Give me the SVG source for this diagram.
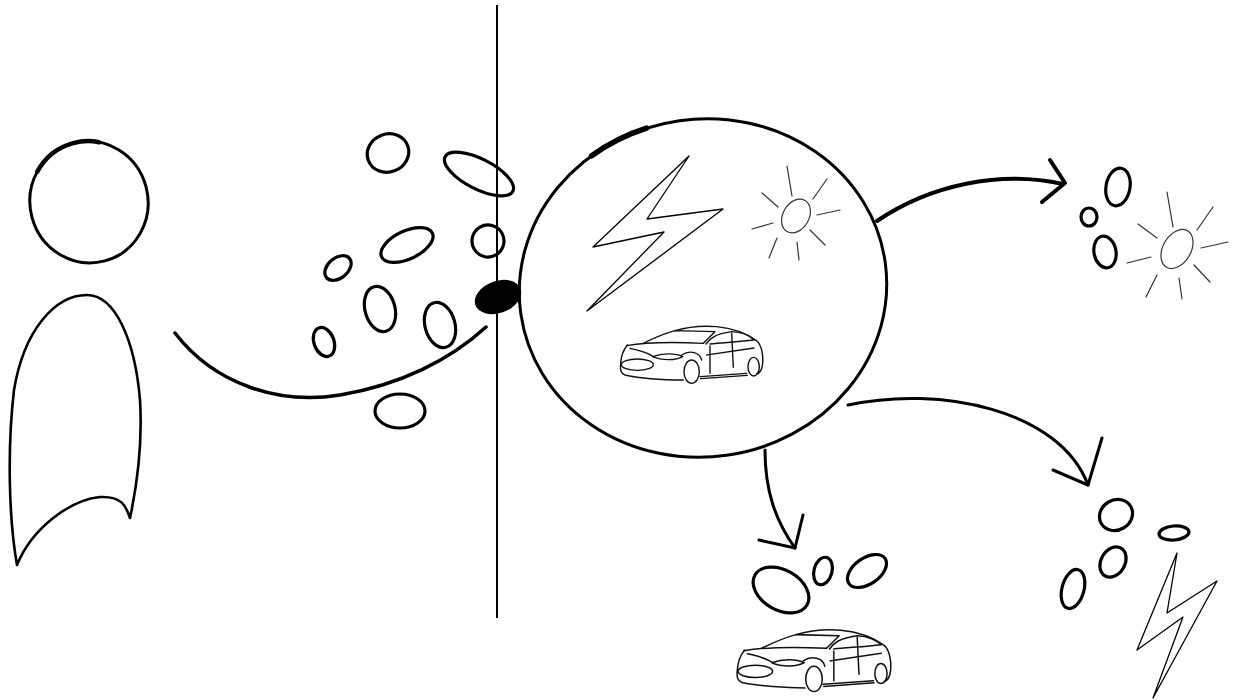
<svg xmlns="http://www.w3.org/2000/svg" width="1233" height="700" viewBox="0 0 1233 700">
  <style>
    .ink { fill: none; stroke: #000; stroke-linecap: round; stroke-linejoin: round; }
    .bold { stroke-width: 3.5; }
    .mid { stroke-width: 3; }
    .thin { stroke-width: 1.3; }
    .hair { fill: none; stroke: #333; stroke-width: 1.2; stroke-linecap: round; }
    .blob { fill: none; stroke: #000; stroke-width: 3.2; }
    .car { fill: none; stroke: #111; stroke-width: 4.2; stroke-linecap: round; stroke-linejoin: round; }
  </style>
  <defs>
    <!-- car sketch drawn in a 540x270 local box -->
    <g id="car">
      <path class="car" d="M225,62 C300,40 400,42 470,92 C485,105 490,135 488,160 C486,180 480,190 470,192"/>
      <path class="car" d="M130,100 C160,85 195,70 225,62 L345,65 L310,100"/>
      <path class="car" d="M80,107 C130,98 210,95 310,100"/>
      <path class="car" d="M318,102 C330,85 345,72 395,65 C425,66 450,78 462,90 C420,95 370,98 330,102"/>
      <path class="car" d="M395,70 L400,172"/>
      <path class="car" d="M320,135 C370,128 420,120 462,114"/>
      <path class="car" d="M330,108 L330,190"/>
      <path class="car" d="M82,105 C70,120 63,140 62,160 C60,180 62,190 75,195 C120,205 200,210 250,210"/>
      <ellipse class="car" cx="112" cy="164" rx="48" ry="17"/>
      <path class="car" d="M158,140 C185,130 225,128 248,140 C228,152 185,152 158,140 Z"/>
      <path class="car" d="M90,115 C110,120 140,125 160,140"/>
      <path class="car" d="M245,135 C270,118 300,128 305,150"/>
      <ellipse class="car" cx="275" cy="185" rx="23" ry="35"/>
      <ellipse class="car" cx="461" cy="170" rx="17" ry="28"/>
      <path class="car" d="M300,200 L440,190"/>
      <path class="car" d="M302,206 L442,196"/>
    </g>
  </defs>

  <!-- dividing wall -->
  <g id="wall">
    <line x1="497" y1="5" x2="497" y2="618" stroke="#000" stroke-width="2"/>
  </g>

  <!-- person -->
  <g id="person">
    <ellipse class="ink" stroke-width="3" cx="89" cy="202" rx="59" ry="61" transform="rotate(-15 89 202)"/>
    <!-- heavier pen pressure along the top of the head -->
    <ellipse class="ink" stroke-width="4.5" cx="89" cy="202" rx="59" ry="61" transform="rotate(-15 89 202)" pathLength="360" stroke-dasharray="70 290" stroke-dashoffset="-225"/>
    <path class="ink" stroke-width="2.6" d="M87,295 C115,295 135,340 140,400 C143,450 136,490 130,518 C126,506 122,496 100,497 C70,500 32,528 17,565 C9,520 7,450 14,390 C24,330 55,295 87,295 Z"/>
    <path class="ink" stroke-width="3.5" d="M175,333 C215,385 280,405 340,395 C400,385 450,360 486,327"/>
  </g>

  <!-- particles crossing the wall -->
  <g id="particles-left">
    <ellipse class="blob" cx="388" cy="153" rx="21" ry="19" transform="rotate(-20 388 153)"/>
    <ellipse class="blob" cx="479" cy="174" rx="38" ry="15" transform="rotate(27 479 174)"/>
    <ellipse class="blob" cx="407" cy="245" rx="28" ry="14" transform="rotate(-25 407 245)"/>
    <ellipse class="blob" cx="488" cy="241" rx="16" ry="16" transform="rotate(-30 488 241)"/>
    <ellipse class="blob" cx="338" cy="268" rx="15" ry="10" transform="rotate(-40 338 268)"/>
    <ellipse class="blob" cx="380" cy="309" rx="15" ry="23" transform="rotate(-15 380 309)"/>
    <ellipse class="blob" cx="440" cy="325" rx="15" ry="23" transform="rotate(-15 440 325)"/>
    <ellipse class="blob" cx="324" cy="342" rx="10" ry="15" transform="rotate(-20 324 342)"/>
    <ellipse class="blob" cx="400" cy="411" rx="25" ry="17"/>
    <ellipse cx="498" cy="297" rx="24" ry="16" fill="#000" transform="rotate(-20 498 297)"/>
  </g>

  <!-- central bubble -->
  <g id="bubble">
    <ellipse class="ink mid" cx="703" cy="288" rx="184" ry="169" transform="rotate(-8 703 288)"/>
    <!-- heavier stroke on the upper-left of the outline -->
    <ellipse class="ink" stroke-width="5.5" cx="703" cy="288" rx="184" ry="169" transform="rotate(-8 703 288)" pathLength="360" stroke-dasharray="20 340" stroke-dashoffset="-239"/>
    <path class="ink thin" d="M689,156 L593,247 L664,232 L587,311 L723,209 L647,219 Z"/>
    <g id="sun-inner">
      <ellipse class="hair" cx="796" cy="216" rx="13" ry="18" transform="rotate(30 796 216)"/>
      <path class="hair" d="M787,166 L792,196 M827,179 L813,199 M762,193 L778,207 M840,210 L817,215 M752,229 L773,223 M810,230 L825,245 M777,238 L769,258 M797,242 L799,260"/>
    </g>
    <use href="#car" transform="translate(600,310) scale(0.3333)"/>
  </g>

  <!-- connectors -->
  <g id="connectors" class="ink">
    <path stroke-width="4" d="M877,221 C930,185 1000,170 1063,184"/>
    <path stroke-width="4" d="M1050,160 L1065,183 L1042,202"/>
    <path stroke-width="3" d="M848,405 C940,385 1060,410 1088,485"/>
    <path stroke-width="3" d="M1053,470 L1088,485 L1102,438"/>
    <path stroke-width="3" d="M765,450 C765,490 775,520 795,548"/>
    <path stroke-width="3" d="M759,540 L795,548 L803,515"/>
  </g>

  <!-- solar output -->
  <g id="out-sun">
    <ellipse class="blob" cx="1118" cy="187" rx="12" ry="19" transform="rotate(10 1118 187)"/>
    <ellipse class="blob" cx="1089" cy="217" rx="8" ry="9"/>
    <ellipse class="blob" cx="1105" cy="252" rx="11" ry="16" transform="rotate(-10 1105 252)"/>
    <ellipse class="hair" cx="1177" cy="249" rx="14" ry="21" transform="rotate(30 1177 249)"/>
    <path class="hair" d="M1167,192 L1173,227 M1213,207 L1197,230 M1138,224 L1157,238 M1228,242 L1201,248 M1127,263 L1151,257 M1194,265 L1210,282 M1157,275 L1146,297 M1179,278 L1182,299"/>
  </g>

  <!-- car output -->
  <g id="out-car">
    <ellipse class="blob" cx="781" cy="590" rx="30" ry="20" transform="rotate(30 781 590)"/>
    <ellipse class="blob" cx="823" cy="571" rx="9" ry="14" transform="rotate(15 823 571)"/>
    <ellipse class="blob" cx="867" cy="571" rx="22" ry="13" transform="rotate(-35 867 571)"/>
    <use href="#car" transform="translate(715,612.3) scale(0.36)"/>
  </g>

  <!-- electricity output -->
  <g id="out-power">
    <ellipse class="blob" cx="1116" cy="515" rx="17" ry="15" transform="rotate(-30 1116 515)"/>
    <ellipse class="blob" cx="1113" cy="562" rx="12" ry="16" transform="rotate(30 1113 562)"/>
    <ellipse class="blob" cx="1073" cy="589" rx="11" ry="20" transform="rotate(15 1073 589)"/>
    <ellipse class="blob" cx="1174" cy="533" rx="15" ry="7" transform="rotate(-5 1174 533)"/>
    <path class="ink thin" d="M1177,553 L1167,613 L1217,581 L1153,698 L1183,617 L1137,650 Z"/>
  </g>
</svg>
